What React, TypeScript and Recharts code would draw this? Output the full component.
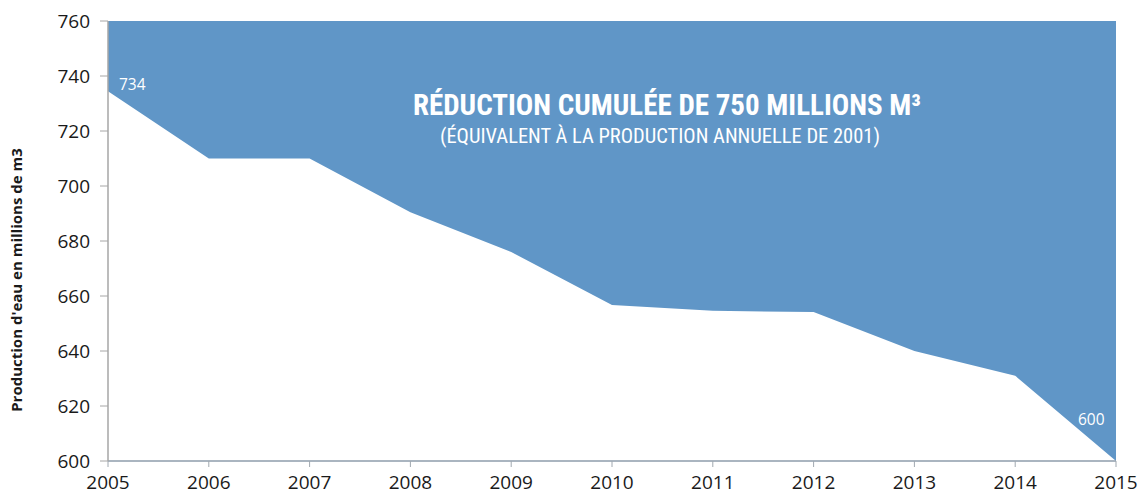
import { AreaChart, Area, XAxis, YAxis } from 'recharts'

const years = ['2005', '2006', '2007', '2008', '2009', '2010', '2011', '2012', '2013', '2014', '2015']
const production = [734.5, 710, 710, 690.5, 676, 656.7, 654.6, 654.2, 640, 631, 600]
const yTicks = [600, 620, 640, 660, 680, 700, 720, 740, 760]
const yMax = 760

const data = years.map((year, i) => ({
  year,
  value: production[i],
  range: [production[i], yMax],
}))

const BLUE = '#6096c7'
const FONT = '"Open Sans", Lato, sans-serif'
const NARROW = '"Liberation Sans Narrow", "Roboto Condensed", "Open Sans", sans-serif'

// texts laid over the chart (titles, end labels, axis title)
function Annotations() {
  return (
    <svg width={1142} height={497} style={{ position: 'absolute', left: 0, top: 0, pointerEvents: 'none' }}>
      <text x={18} y={280} transform="rotate(-90 18 280)" textAnchor="middle" dominantBaseline="middle"
        style={{ fontFamily: FONT, fontSize: 15, fontWeight: 700, fill: '#1a1a1a' }}>
        Production d'eau en millions de m3
      </text>
      <text x={667} y={115} textAnchor="middle"
        style={{ fontFamily: NARROW, fontSize: 29, fontWeight: 700, fill: '#ffffff' }}>
        RÉDUCTION CUMULÉE DE 750 MILLIONS M³
      </text>
      <text x={660} y={143} textAnchor="middle"
        style={{ fontFamily: NARROW, fontSize: 20.5, fill: '#ffffff' }}>
        (ÉQUIVALENT À LA PRODUCTION ANNUELLE DE 2001)
      </text>
      <text x={119} y={90} style={{ fontFamily: FONT, fontSize: 15.5, fill: '#ffffff' }}>734</text>
      <text x={1078} y={425} style={{ fontFamily: FONT, fontSize: 15.5, fill: '#ffffff' }}>600</text>
    </svg>
  )
}

export default function App() {
  return (
    <div style={{ position: 'absolute', left: 0, top: 0, width: 1142, height: 497, background: '#fff' }}>
      <AreaChart width={1142} height={497} data={data} margin={{ top: 21, right: 26, bottom: 0, left: 0 }}>
        <XAxis
          dataKey="year"
          height={36}
          tick={{ fontFamily: FONT, fontSize: 19, fill: '#1a1a1a' }}
          tickSize={6}
          tickMargin={9}
          axisLine={{ stroke: '#8e9cab', strokeWidth: 1.5 }}
          tickLine={{ stroke: '#a0a8b0' }}
          interval={0}
        />
        <YAxis
          domain={[600, 760]}
          ticks={yTicks}
          width={108}
          tick={{ fontFamily: FONT, fontSize: 19, fill: '#1a1a1a' }}
          tickSize={8}
          tickMargin={10}
          axisLine={{ stroke: '#a6a6a6', strokeWidth: 1.5 }}
          tickLine={{ stroke: '#a6a6a6' }}
          allowDataOverflow
        />
        <Area
          type="linear"
          dataKey="range"
          fill={BLUE}
          fillOpacity={1}
          stroke="none"
          isAnimationActive={false}
          dot={false}
          activeDot={false}
        />
      </AreaChart>
      <Annotations />
    </div>
  )
}
